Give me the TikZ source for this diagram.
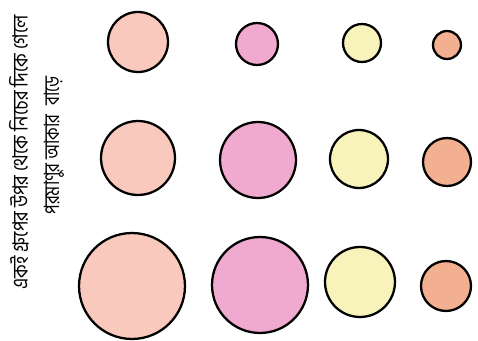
\documentclass[tikz,border=0pt]{standalone}
\usepackage{fontspec}
\newfontfamily\bnfont[Script=Bengali]{Hind Siliguri}
\usepackage{xcolor}
\usepackage{tikz}
\usetikzlibrary{positioning}

\definecolor{peach}{HTML}{F8C9BC}
\definecolor{rose}{HTML}{F0A9CF}
\definecolor{lemon}{HTML}{F8F3BA}
\definecolor{apricot}{HTML}{F3B090}

\tikzset{
  atom/.style={circle, draw=black, line width=1.3pt, inner sep=0pt},
  caption/.style={rotate=90, anchor=west, font=\bnfont\fontsize{12}{14}\selectfont, inner sep=0pt}
}

\begin{document}
\begin{tikzpicture}[x=0.02cm, y=-0.02cm]
        \useasboundingbox (0,0) rectangle (478,341);
        % first row
        \node[atom, fill=peach, minimum size=1.2cm] (a1) at (138,42) {};
        \node[atom, fill=rose, minimum size=0.84cm] (b1) at (257,44) {};
        \node[atom, fill=lemon, minimum size=0.76cm] (c1) at (362,43) {};
        \node[atom, fill=apricot, minimum size=0.56cm] (d1) at (447,45) {};
        % second row
        \node[atom, fill=peach, minimum size=1.48cm] (a2) at (138,158) {};
        \node[atom, fill=rose, minimum size=1.52cm] (b2) at (258,160) {};
        \node[atom, fill=lemon, minimum size=1.16cm] (c2) at (359,159) {};
        \node[atom, fill=apricot, minimum size=0.96cm] (d2) at (447,162) {};
        % third row
        \node[atom, fill=peach, minimum size=2.12cm] (a3) at (132,286) {};
        \node[atom, fill=rose, minimum size=1.92cm] (b3) at (260,285) {};
        \node[atom, fill=lemon, minimum size=1.4cm] (c3) at (360,282) {};
        \node[atom, fill=apricot, minimum size=1.0cm] (d3) at (446,286) {};
        % rotated note
        \node[caption] (line1) at (19,290) {\scalebox{0.87}[1]{একই গ্রুপের উপর থেকে নিচের দিকে গেলে}};
        \node[caption] (line2) at (54,215) {\scalebox{0.8}[1]{পরমাণুর আকার\hspace{0.5em}বাড়ে}};
    \end{tikzpicture}
\end{document}
